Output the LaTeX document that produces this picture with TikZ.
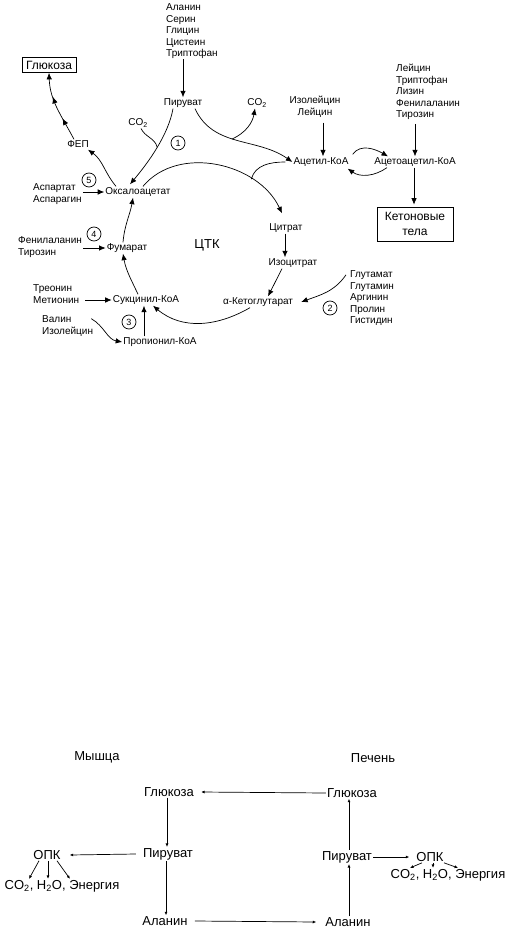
\documentclass[tikz,border=0pt]{standalone}
\usepackage{fontspec}
\setmainfont{Liberation Sans}
\usetikzlibrary{arrows.meta,decorations.markings,calc}
\begin{document}
\begin{tikzpicture}[x=1pt,y=-1pt,
  lbl/.style={font=\fontsize{10}{11.5}\selectfont, inner sep=1pt},
  lst/.style={lbl, align=left, anchor=west, inner sep=0pt},
  big/.style={font=\fontsize{12}{14.5}\selectfont, inner sep=1pt},
  bot/.style={font=\fontsize{13}{15}\selectfont, inner sep=1pt},
  num/.style={circle, draw, line width=0.7pt, minimum size=14pt, inner sep=0pt, font=\fontsize{9}{9}\selectfont},
  ln/.style={line width=0.7pt},
  arr/.style={ln, -{Latex[length=6.5pt,width=5.5pt]}},
  sarr/.style={ln, -{Latex[length=3.5pt,width=3pt]}},
  multi/.style={postaction={decorate}, decoration={markings,
     mark=at position 0.33 with {\arrow{Latex[length=6.5pt,width=5.5pt]}},
     mark=at position 0.66 with {\arrow{Latex[length=6.5pt,width=5.5pt]}}}}
]
\useasboundingbox (0,0) rectangle (509,931);

% ---------- top: nodes ----------
\node[lst] (aa) at (166,31.5) {Аланин\\Серин\\Глицин\\Цистеин\\Триптофан};
\node[lbl] (pyr) at (183,103) {Пируват};
\node[lbl] (co2a) at (138,123) {CO\textsubscript{2}};
\node[num] (n1) at (178,143) {1};
\node[lbl] (oaa) at (138,192) {Оксалоацетат};
\node[lbl] (fep) at (78,144) {ФЕП};
\node[big, draw, line width=0.7pt, minimum width=54pt, minimum height=15pt, inner sep=0pt] (glc) at (49,65) {Глюкоза};
\node[num] (n5) at (89,180) {5};
\node[lst] (asp) at (33,194) {Аспартат\\Аспарагин};
\node[num] (n4) at (94,234) {4};
\node[lst] (phe) at (18,247) {Фенилаланин\\Тирозин};
\node[lbl] (fum) at (127,248) {Фумарат};
\node[font=\fontsize{13}{15}\selectfont] (tck) at (207,245) {ЦТК};
\node[lbl] (suc) at (146,300) {Сукцинил-КоА};
\node[lst] (thr) at (33,294) {Треонин\\Метионин};
\node[lst] (val) at (42,326) {Валин\\Изолейцин};
\node[num] (n3) at (129,322) {3};
\node[lbl] (prop) at (160,342) {Пропионил-КоА};
\node[lbl] (akg) at (258,302) {α-Кетоглутарат};
\node[lbl] (cit) at (286,228) {Цитрат};
\node[lbl] (icit) at (293,263) {Изоцитрат};
\node[lst] (glu) at (350,298.5) {Глутамат\\Глутамин\\Аргинин\\Пролин\\Гистидин};
\node[num] (n2) at (330,308) {2};
\node[lbl] (acoa) at (321,162) {Ацетил-КоА};
\node[lbl] (co2b) at (257,103) {CO\textsubscript{2}};
\node[lbl, align=center] (ile) at (315,107) {Изолейцин\\Лейцин};
\node[lst] (leu) at (396,92) {Лейцин\\Триптофан\\Лизин\\Фенилаланин\\Тирозин};
\node[lbl] (acac) at (415,162) {Ацетоацетил-КоА};
\node[big, draw, line width=0.7pt, align=center, minimum width=76pt, minimum height=34pt, inner sep=0pt] (keto) at (415,224) {Кетоновые\\тела};

% ---------- top: connectors ----------
\draw[arr] (aa.south -| pyr.north) -- (pyr.north);
\draw[arr] ([xshift=-10]pyr.south) to[out=-100,in=50,looseness=0.8] coordinate[pos=0.48] (j1) ([xshift=-8,yshift=2]oaa.north);
\draw[ln] ([xshift=3]co2a.south) to[out=-65,in=105] (j1);
\draw[arr] ([xshift=-22]oaa.north) to[out=130,in=-35] ([xshift=-2,yshift=-1]fep.south east);
\draw[arr,multi] ([xshift=-4]fep.north) to[out=118,in=-88] (glc.south);
\draw[arr] (asp.east |- oaa.west) ++(1,0) -- (oaa.west);
\draw[arr] (phe.east |- fum.west) ++(1,0) -- (fum.west);
\draw[arr] ([xshift=-4]fum.north) to[out=85,in=-100] ([xshift=-5]oaa.south);
\draw[arr] ([xshift=-8]suc.north) to[out=115,in=-80] ([xshift=-4]fum.south);
\draw[arr] (thr.east |- suc.west) ++(6,0) -- (suc.west);
\draw[arr] ([xshift=-2,yshift=-3]val.north east) to[out=-30,in=170] (prop.west);
\draw[arr] ([xshift=-16]prop.north) -- ([xshift=-16]prop.north |- suc.south);
\draw[arr] ([xshift=-8]akg.south) to[out=-150,in=-40] ([xshift=7]suc.south);
\draw[arr] ([xshift=5]oaa.north) to[out=50,in=115] coordinate[pos=0.72] (j3) ([xshift=-4,yshift=9]cit.north);
\draw[ln] ([xshift=-7]acoa.west) to[out=180,in=75] (j3);
\draw[arr] ([xshift=12]pyr.south) to[out=-65,in=145] coordinate[pos=0.45] (j2) (acoa.west);
\draw[arr] (j2) to[out=25,in=-100] ([xshift=-2]co2b.south);
\draw[arr] (ile.south -| acoa.north) ++(2,4) -- ([xshift=2]acoa.north);
\draw[arr] (leu.south -| acac.north) ++(0,4) -- (acac.north);
\draw[arr] ([xshift=3,yshift=2]acoa.north east) to[out=55,in=150] ([xshift=-27]acac.north);
\draw[arr] ([xshift=-28]acac.south) to[out=-145,in=-35] ([xshift=-2,yshift=-1]acoa.south east);
\draw[arr] ([xshift=-1]acac.south) -- ([xshift=-1,yshift=2]keto.north);
\draw[arr] ([xshift=-1]cit.south) -- ([xshift=-8]icit.north);
\draw[arr] ([xshift=-11]icit.south) -- ([xshift=10]akg.north);
\draw[arr] ([xshift=-4,yshift=-4]glu.north west) to[out=-125,in=20] ([xshift=7]akg.east);

% ---------- bottom ----------
\node[bot] (musc) at (97,757) {Мышца};
\node[bot] (liv) at (373,758) {Печень};
\node[bot] (glcL) at (169,792) {Глюкоза};
\node[bot] (glcR) at (352,793) {Глюкоза};
\node[bot] (pyrL) at (168,854) {Пируват};
\node[bot] (pyrR) at (347,857) {Пируват};
\node[bot] (alaL) at (165,921) {Аланин};
\node[bot] (alaR) at (348,922) {Аланин};
\node[bot] (opkL) at (47,855) {ОПК};
\node[bot] (opkR) at (430,857) {ОПК};
\node[bot] (prodL) at (62,886) {CO\textsubscript{2}, H\textsubscript{2}O, Энергия};
\node[bot] (prodR) at (448,875) {CO\textsubscript{2}, H\textsubscript{2}O, Энергия};

\draw[sarr] (glcR.west) -- ([xshift=6]glcL.east);
\draw[sarr] ([xshift=-2]glcL.south) -- ([xshift=-2]glcL.south |- pyrL.north);
\draw[sarr] ([xshift=-2]pyrL.south) -- ([xshift=-2]pyrL.south |- alaL.north);
\draw[sarr] ([xshift=-6]pyrL.west) -- ([xshift=8]opkL.east);
\draw[sarr] ([xshift=6]alaL.east) -- ([xshift=-8]alaR.west);
\draw[sarr] ([xshift=1]alaR.north) -- ([xshift=1]alaR.north |- pyrR.south);
\draw[sarr] ([xshift=2]pyrR.north) -- ([xshift=2]pyrR.north |- glcR.south);
\draw[sarr] (pyrR.east) -- ([xshift=-6]opkR.west);
\draw[sarr] ([xshift=-8]opkL.south) -- ([xshift=-18]opkL.south |- prodL.north);
\draw[sarr] ([xshift=1]opkL.south) -- ([xshift=1]opkL.south |- prodL.north);
\draw[sarr] ([xshift=10]opkL.south) -- ([xshift=23]opkL.south |- prodL.north);
\draw[sarr] ([xshift=-8]opkR.south) -- ([xshift=-20]opkR.south |- prodR.north);
\draw[sarr] ([xshift=3]opkR.south) -- ([xshift=3]opkR.south |- prodR.north);
\draw[sarr] ([xshift=14]opkR.south) -- ([xshift=28]opkR.south |- prodR.north);
\end{tikzpicture}
\end{document}
